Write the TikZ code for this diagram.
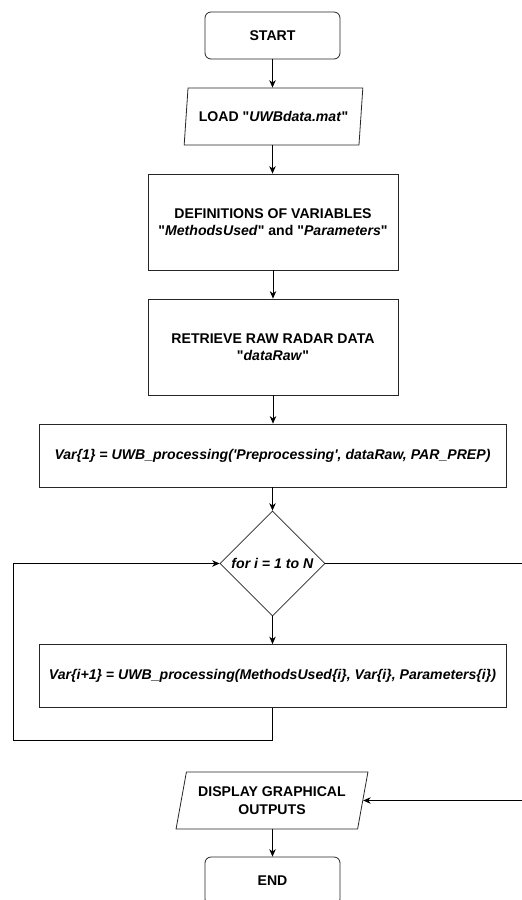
\documentclass[tikz,border=0pt]{standalone}
\usepackage{fontspec}
\setmainfont{Liberation Sans}
\usetikzlibrary{shapes.geometric,arrows.meta}
\newcommand{\dq}{\textquotedbl}
\begin{document}
\begin{tikzpicture}[x=1pt,y=-1pt,
  base/.style={draw=black!85, line width=0.8pt, font=\fontsize{14.1}{17.5}\selectfont\bfseries, align=center, inner sep=0pt},
  term/.style={base, rounded corners=6pt, minimum width=135pt, minimum height=47pt},
  proc/.style={base, minimum width=250pt, minimum height=96pt},
  wide/.style={base, minimum width=467pt, minimum height=63pt},
  io/.style={base, trapezium, trapezium left angle=72, trapezium right angle=108, trapezium stretches=true, minimum height=57pt},
  cond/.style={base, diamond, aspect=1, minimum width=105pt, minimum height=105pt},
  arr/.style={-{Stealth[length=7.5pt,width=6.5pt]}, line width=0.8pt, black}
]
\useasboundingbox (0,0) rectangle (522,900);
\clip (0,0) rectangle (522,900);
\fill[white] (0,0) rectangle (522,900);

\node[term] (start) at (272.5,35.5) {START};
\node[io, minimum width=179pt] (load) at (273.5,116.5) {LOAD \dq\textit{UWBdata.mat}\dq};
\node[proc] (def) at (273,222) {DEFINITIONS OF VARIABLES\\\dq\textit{MethodsUsed}\dq{} and \dq\textit{Parameters}\dq};
\node[proc] (ret) at (273,347) {RETRIEVE RAW RADAR DATA\\\dq\textit{dataRaw}\dq};
\node[wide] (v1) at (272.5,455.5) {\textit{Var\{1\} = UWB\_processing(\textquotesingle Preprocessing\textquotesingle, dataRaw, PAR\_PREP)}};
\node[cond] (dia) at (272.5,563.5) {\textit{for i = 1 to N}};
\node[wide] (vi) at (272.5,676) {\textit{Var\{i+1\} = UWB\_processing(MethodsUsed\{i\}, Var\{i\}, Parameters\{i\})}};
\node[io, minimum width=192pt] (disp) at (272,800.5) {DISPLAY GRAPHICAL\\OUTPUTS};
\node[term, minimum height=48pt] (end) at (272.5,881) {END};

\coordinate (lb) at (13,740);
\coordinate (rx) at (545,0);

\draw[arr] (start.south) -- (start.south |- load.north);
\draw[arr] (load.south -| start.south) -- (start.south |- def.north);
\draw[arr] (def.south) -- (ret.north);
\draw[arr] (ret.south) -- (ret.south |- v1.north);
\draw[arr] (v1.south) -- (dia.north);
\draw[arr] (dia.south) -- (vi.north);
\draw[arr] (vi.south) |- (lb) |- (dia.west);
\draw[arr] (dia.east) -| (rx |- disp.east) -- (disp.east);
\draw[arr] (disp.south -| end.north) -- (end.north);
\end{tikzpicture}
\end{document}
